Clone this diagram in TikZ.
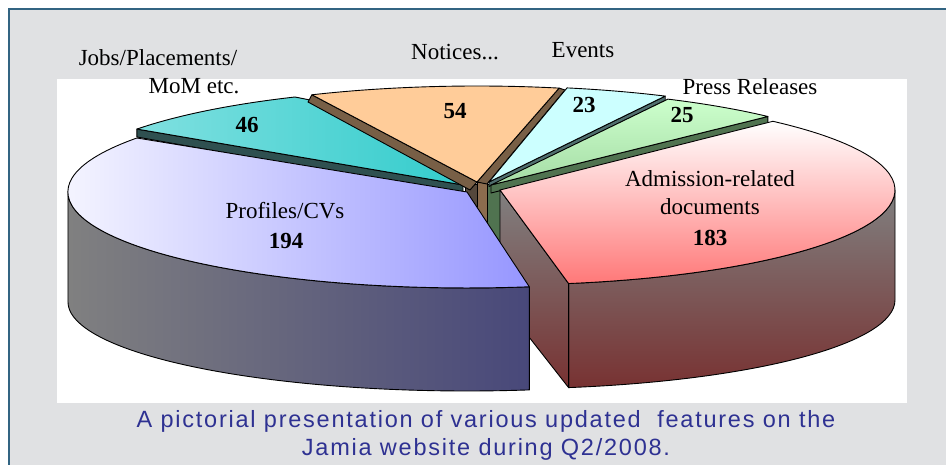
\documentclass[tikz,border=0pt]{standalone}
\usepackage{fontspec}
\setmainfont{Liberation Serif}
\newfontfamily\capfont[LetterSpace=7.5]{Liberation Sans}
\definecolor{panel}{RGB}{224,225,227}
\definecolor{frame}{RGB}{50,100,130}
\definecolor{capblue}{RGB}{46,49,146}
\definecolor{profR}{RGB}{150,150,255}
\definecolor{profSideL}{RGB}{128,128,128}
\definecolor{profSideR}{RGB}{72,72,122}
\definecolor{admB}{RGB}{255,120,120}
\definecolor{admSideT}{RGB}{128,128,128}
\definecolor{admSideB}{RGB}{120,50,50}
\definecolor{jobsL}{RGB}{128,224,224}
\definecolor{jobsR}{RGB}{51,204,204}
\definecolor{jobsDk}{RGB}{47,80,80}
\definecolor{notc}{RGB}{255,204,153}
\definecolor{notcDk}{RGB}{120,95,70}
\definecolor{evt}{RGB}{204,255,255}
\definecolor{evtDk}{RGB}{80,110,110}
\definecolor{prsT}{RGB}{204,255,204}
\definecolor{prsB}{RGB}{165,220,165}
\definecolor{prsDk}{RGB}{80,115,80}
\definecolor{hubA}{RGB}{85,72,60}
\definecolor{hubB}{RGB}{140,108,78}
\tikzset{
  face/.style={draw=black, line width=0.9pt, line join=round},
  lab/.style={font=\fontsize{23}{26}\selectfont, inner sep=0pt},
  num/.style={font=\fontsize{23}{26}\selectfont\bfseries, inner sep=0pt},
  captext/.style={font=\capfont\fontsize{23.5}{29}\selectfont, text=capblue, inner sep=0pt, anchor=base}
}
\begin{document}
\begin{tikzpicture}[x=1pt,y=1pt]
\clip (0,0) rectangle (946,-465);
\fill[white] (0,0) rectangle (946,-465);
\filldraw[fill=panel, draw=frame, line width=1.2pt] (9,-9) rectangle (960,-480);
\fill[white] (57,-79) rectangle (907,-403);

% hub faces
\filldraw[face, fill=hubA] (465,-184) rectangle (477,-240);
\filldraw[face, fill=hubB] (477,-182) rectangle (487,-240);
\filldraw[face, fill=prsDk] (487,-184) rectangle (500,-262);

% Jobs
\filldraw[face, fill=jobsDk] (136.9,-129.1) -- (463,-185) -- (463,-195) -- (136.9,-137) -- cycle;
\shadedraw[face, left color=jobsL, right color=jobsR] (463,-185) -- (310,-100) -- (295,-97)
  arc[start angle=114.9, end angle=144.8, x radius=399, y radius=97] -- cycle;

% Notices
\filldraw[face, fill=notcDk] (311.9,-94.8) -- (477,-182) -- (470,-190) -- (308,-102) -- cycle;
\filldraw[face, fill=notcDk] (559.1,-88.1) -- (565,-90) -- (487,-184) -- (477,-182) -- cycle;
\filldraw[face, fill=notc] (477,-182) -- (559.1,-88.1)
  arc[start angle=78, end angle=114.7, x radius=395, y radius=96] -- cycle;

% Events
\filldraw[face, fill=evtDk] (665.2,-96.1) -- (665.2,-100.5) -- (489,-186.5) -- (489,-182) -- cycle;
\filldraw[face, fill=evt] (489,-182) -- (665.2,-96.1)
  arc[start angle=63.5, end angle=78.6, x radius=395, y radius=96] -- cycle;

% Press Releases
\filldraw[face, fill=prsDk] (767.9,-116.5) -- (767.9,-124) -- (491,-193) -- (491,-185) -- cycle;
\shadedraw[face, top color=prsT, bottom color=prsB] (491,-185) -- (767.9,-116.5)
  arc[start angle=45.5, end angle=63.4, x radius=395, y radius=96] -- cycle;

% Admission-related documents
\shadedraw[face, top color=admSideT, bottom color=admSideB] (895,-190)
  arc[start angle=0, end angle=-80, x radius=395, y radius=95] -- (568.6,-387.6)
  arc[start angle=-80, end angle=0, x radius=395, y radius=89] -- cycle;
\shadedraw[face, top color=admSideT, bottom color=admSideB] (500,-190) -- (568.6,-283.6) -- (568.6,-387.6) -- (500,-300) -- cycle;
\shadedraw[face, top color=white, bottom color=admB] (500,-190) -- (772.9,-121.3)
  arc[start angle=46.3, end angle=-80, x radius=395, y radius=95] -- cycle;

% Profiles/CVs
\shadedraw[face, left color=profSideL, right color=profSideR] (68,-192)
  arc[start angle=180, end angle=279, x radius=399, y radius=96] -- (529.4,-389.9)
  arc[start angle=279, end angle=180, x radius=399, y radius=89] -- cycle;
\shadedraw[face, left color=white, right color=profR] (467,-192) -- (136.9,-138)
  arc[start angle=145.8, end angle=279, x radius=399, y radius=96] -- cycle;

% labels
\node[lab] (jobs1) at (158,-58) {Jobs/Placements/};
\node[lab] (jobs2) at (194,-86) {MoM etc.};
\node[lab] (notices) at (455,-52) {Notices...};
\node[lab] (events) at (583,-50) {Events};
\node[lab] (press) at (750,-87) {Press Releases};
\node[lab] (adm1) at (710,-179) {Admission-related};
\node[lab] (adm2) at (710,-207) {documents};
\node[num] (n183) at (710,-238) {183};
\node[lab] (prof) at (285,-211) {Profiles/CVs};
\node[num] (n194) at (286,-241) {194};
\node[num] (n46) at (247,-125) {46};
\node[num] (n54) at (455,-111) {54};
\node[num] (n23) at (584,-105) {23};
\node[num] (n25) at (682,-115) {25};

\node[captext] (cap1) at (486,-427) {A pictorial presentation of various updated~~features on the};
\node[captext] (cap2) at (486,-455) {Jamia website during Q2/2008.};
\end{tikzpicture}
\end{document}
